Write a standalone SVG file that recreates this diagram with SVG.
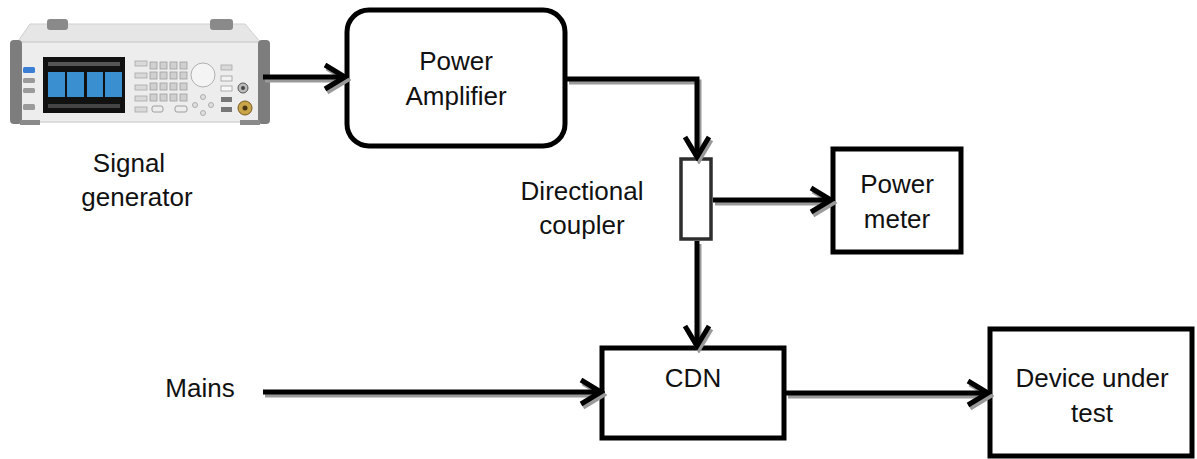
<svg xmlns="http://www.w3.org/2000/svg" width="1197" height="459" viewBox="0 0 1197 459">
<style>
.t{font-family:"Liberation Sans",Arial,sans-serif;font-size:26px;fill:#111;text-anchor:middle}
.box{fill:#fff;stroke:#000;stroke-width:5}
.ln{fill:none;stroke:#000;stroke-width:5}
.sh{fill:none;stroke:#9a9a9a;stroke-width:5}
.key{fill:#d9d9d9;stroke:#a8a8a8;stroke-width:0.8}
</style>
<defs>
<marker id="ah" markerUnits="userSpaceOnUse" viewBox="0 0 28 30" markerWidth="28" markerHeight="30" refX="24" refY="15" orient="auto">
<path d="M4,3 L24,15 L4,27" fill="none" stroke="#000" stroke-width="5"/>
</marker>
<marker id="ahs" markerUnits="userSpaceOnUse" viewBox="0 0 28 30" markerWidth="28" markerHeight="30" refX="24" refY="15" orient="auto">
<path d="M4,3 L24,15 L4,27" fill="none" stroke="#9a9a9a" stroke-width="5"/>
</marker>
</defs>
<rect width="1197" height="459" fill="#fff"/>

<g id="signal-generator">
<!-- top surface -->
<path d="M30,24 L245,24 L262,44 L16,44 Z" fill="#e6e6e6" stroke="#cfcfcf"/>
<rect x="47" y="19" width="21" height="11" rx="3" fill="#8a8a8a"/>
<rect x="210" y="19" width="23" height="11" rx="3" fill="#8a8a8a"/>
<!-- front body -->
<rect x="12" y="42" width="256" height="80" rx="6" fill="#ededed" stroke="#c4c4c4"/>
<rect x="10" y="40" width="12" height="84" rx="4" fill="#7d7d7d"/>
<rect x="258" y="40" width="12" height="84" rx="4" fill="#7d7d7d"/>
<rect x="20" y="120" width="20" height="5" fill="#8a8a8a"/>
<rect x="240" y="120" width="20" height="5" fill="#8a8a8a"/>
<!-- screen -->
<rect x="43" y="57" width="82" height="56" fill="#111"/>
<rect x="48" y="72" width="17" height="25" fill="#3a8fd0"/>
<rect x="67" y="72" width="17" height="25" fill="#3a8fd0"/>
<rect x="87" y="72" width="16" height="25" fill="#3a8fd0"/>
<rect x="105" y="72" width="17" height="25" fill="#3a8fd0"/>
<rect x="48" y="62" width="72" height="4" fill="#555"/>
<rect x="48" y="104" width="72" height="4" fill="#444"/>
<!-- left buttons -->
<rect x="23" y="67" width="12" height="6" rx="1.5" fill="#3b7fd4"/>
<rect x="23" y="78" width="12" height="5" rx="1.5" fill="#9a9a9a"/>
<rect x="23" y="88" width="12" height="5" rx="1.5" fill="#9a9a9a"/>
<rect x="23" y="104" width="12" height="6" rx="1.5" fill="#9a9a9a"/>
<!-- button column -->
<rect x="135" y="61" width="12" height="5" class="key"/>
<rect x="135" y="73" width="12" height="5" class="key"/>
<rect x="135" y="85" width="12" height="5" class="key"/>
<rect x="135" y="96" width="12" height="5" class="key"/>
<rect x="135" y="107" width="12" height="5" class="key"/>
<!-- keypad -->
<g fill="#d0d0d0" stroke="#9e9e9e" stroke-width="0.8">
<rect x="150" y="62" width="7" height="7"/><rect x="160" y="62" width="7" height="7"/><rect x="170" y="62" width="7" height="7"/><rect x="180" y="62" width="7" height="7"/>
<rect x="150" y="72" width="7" height="7"/><rect x="160" y="72" width="7" height="7"/><rect x="170" y="72" width="7" height="7"/><rect x="180" y="72" width="7" height="7"/>
<rect x="150" y="83" width="7" height="7"/><rect x="160" y="83" width="7" height="7"/><rect x="170" y="83" width="7" height="7"/><rect x="180" y="83" width="7" height="7"/>
<rect x="150" y="94" width="7" height="7"/><rect x="160" y="94" width="7" height="7"/><rect x="170" y="94" width="7" height="7"/><rect x="180" y="94" width="7" height="7"/>
</g>
<rect x="152" y="106" width="11" height="6" rx="2" fill="none" stroke="#9e9e9e"/>
<rect x="175" y="106" width="12" height="6" rx="2" fill="none" stroke="#9e9e9e"/>
<!-- knob -->
<circle cx="203" cy="75" r="12" fill="#f4f4f4" stroke="#b0b0b0"/>
<!-- nav pad -->
<g fill="#e0e0e0" stroke="#9e9e9e" stroke-width="0.8">
<circle cx="203" cy="97" r="2.5"/><circle cx="203" cy="113" r="2.5"/><circle cx="195" cy="105" r="2.5"/><circle cx="211" cy="105" r="2.5"/>
</g>
<!-- right buttons -->
<rect x="221" y="65" width="11" height="5" class="key"/>
<rect x="221" y="76" width="11" height="5" fill="#f2f2f2" stroke="#9e9e9e" stroke-width="0.8"/>
<rect x="221" y="86" width="11" height="5" fill="#f8f8f8" stroke="#9e9e9e" stroke-width="0.8"/>
<rect x="221" y="97" width="11" height="5" fill="#777"/>
<rect x="221" y="107" width="11" height="5" fill="#777"/>
<!-- connectors -->
<circle cx="243" cy="88" r="5" fill="#bbb" stroke="#555"/>
<circle cx="243" cy="88" r="2" fill="#444"/>
<circle cx="245" cy="108" r="7" fill="#c9a54a" stroke="#7a5a20"/>
<circle cx="245" cy="108" r="2.5" fill="#4a3510"/>
<text class="t" x="129" y="172">Signal</text>
<text class="t" x="137" y="206">generator</text>
</g>

<g id="power-amplifier">
<rect class="box" x="347" y="10" width="218" height="136" rx="22" stroke-width="4.5"/>
<text class="t" x="456" y="70">Power</text>
<text class="t" x="456" y="105">Amplifier</text>
</g>

<g id="directional-coupler">
<rect x="681" y="159" width="30" height="80" fill="#fff" stroke="#2e2e2e" stroke-width="3.5"/>
<text class="t" x="582" y="200">Directional</text>
<text class="t" x="582" y="234">coupler</text>
</g>

<g id="power-meter">
<rect class="box" x="833" y="149" width="128" height="103" stroke-width="4.5"/>
<text class="t" x="897" y="193">Power</text>
<text class="t" x="897" y="228">meter</text>
</g>

<g id="cdn">
<rect class="box" x="602" y="348" width="182" height="90"/>
<text class="t" x="693" y="387">CDN</text>
</g>

<g id="device-under-test">
<rect class="box" x="990" y="329" width="202" height="127"/>
<text class="t" x="1092" y="387">Device under</text>
<text class="t" x="1092" y="422">test</text>
</g>

<g id="mains">
<text class="t" x="200" y="397">Mains</text>
</g>

<g id="connectors">
<g transform="translate(2,3)">
<path class="sh" d="M263,77 H345" marker-end="url(#ahs)"/>
<path class="sh" d="M567,79 H697 V157" marker-end="url(#ahs)"/>
<path class="sh" d="M713,200 H831" marker-end="url(#ahs)"/>
<path class="sh" d="M697,241 V346" marker-end="url(#ahs)"/>
<path class="sh" d="M263,392 H601" marker-end="url(#ahs)"/>
<path class="sh" d="M786,393 H988" marker-end="url(#ahs)"/>
</g>
<path class="ln" d="M263,77 H345" marker-end="url(#ah)"/>
<path class="ln" d="M567,79 H697 V157" marker-end="url(#ah)"/>
<path class="ln" d="M713,200 H831" marker-end="url(#ah)"/>
<path class="ln" d="M697,241 V346" marker-end="url(#ah)"/>
<path class="ln" d="M263,392 H601" marker-end="url(#ah)"/>
<path class="ln" d="M786,393 H988" marker-end="url(#ah)"/>
</g>
</svg>
